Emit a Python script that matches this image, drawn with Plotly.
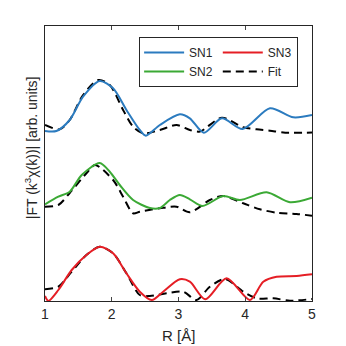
import plotly.graph_objects as go

# R values (Å) and curve heights (arb. units, offset stacked)
r_sn1 = [1.0, 1.17, 1.37, 1.57, 1.82, 2.02, 2.22, 2.42, 2.51, 2.72, 3.02, 3.17, 3.38, 3.65, 3.96, 4.37, 4.72, 5.0]
sn1 = [170, 170, 181, 204.3, 220, 212.7, 191, 171, 165.3, 176, 186.7, 182.7, 168.3, 182.7, 172, 192.7, 183.7, 186]
r_fit1 = [1.0, 1.22, 1.37, 1.57, 1.8, 1.97, 2.17, 2.32, 2.47, 2.72, 2.97, 3.17, 3.32, 3.65, 3.97, 4.17, 4.37, 4.6, 5.0]
fit1 = [176, 171.7, 181, 206, 221, 216, 191, 174.3, 167.7, 171, 176, 171, 169.5, 183.3, 173.7, 171.7, 170.3, 168.3, 168.5]

r_sn2 = [1.0, 1.2, 1.37, 1.55, 1.82, 1.97, 2.12, 2.32, 2.57, 2.72, 2.87, 3.02, 3.17, 3.36, 3.67, 3.92, 4.32, 4.67, 5.0]
sn2 = [96.7, 104.3, 109.3, 126, 138, 129.3, 116, 101, 93, 93, 101, 106, 101.7, 95, 105, 101, 108.7, 98.7, 103.3]
r_fit2 = [1.0, 1.2, 1.37, 1.62, 1.75, 2.02, 2.17, 2.32, 2.42, 2.72, 2.97, 3.17, 3.47, 3.67, 3.97, 4.22, 4.47, 4.77, 5.0]
fit2 = [94.3, 96, 108, 127.7, 136, 121, 104.3, 87.7, 89.3, 92.7, 94.3, 88.7, 101, 105, 97.7, 91.7, 88.3, 87, 85.3]

r_sn3 = [1.0, 1.05, 1.2, 1.4, 1.62, 1.82, 2.02, 2.22, 2.42, 2.6, 2.77, 3.02, 3.17, 3.4, 3.72, 4.07, 4.27, 4.47, 4.77, 5.0]
sn3 = [5, 0, 11, 31, 46, 54.3, 47.7, 27.7, 9.3, 1, 9.3, 21.7, 19.3, 1.7, 22.7, 1, 19.3, 24.3, 25, 26.7]
r_fit3 = [1.0, 1.2, 1.4, 1.62, 1.82, 2.02, 2.22, 2.42, 2.57, 2.82, 3.07, 3.27, 3.47, 3.7, 3.97, 4.17, 4.42, 4.67, 5.0]
fit3 = [11.7, 14.3, 29.3, 46, 54.3, 47.7, 27.7, 6, 5, 7.7, 9.3, 1, 14.3, 22, 9.3, 2.7, 2.7, 0.3, 2]

x_ticks = [1, 2, 3, 4, 5]
x_title = "R [Å]"
y_title = "|FT (k<sup>3</sup>χ(k))| [arb. units]"

c_blue = "#2B7BBF"
c_green = "#3BA935"
c_red = "#E51E25"

dash = "8px,5px"
fig = go.Figure()
for rx, ry in [(r_fit1, fit1), (r_fit2, fit2), (r_fit3, fit3)]:
    fig.add_trace(go.Scatter(x=rx, y=ry, mode="lines", line=dict(color="black", width=2, dash=dash, shape="spline", smoothing=0.8), showlegend=False, legendgroup="b"))
fig.add_trace(go.Scatter(x=r_sn1, y=sn1, mode="lines", name="SN1", legendgroup="a", line=dict(color=c_blue, width=2, shape="spline", smoothing=0.8)))
fig.add_trace(go.Scatter(x=r_sn2, y=sn2, mode="lines", name="SN2", legendgroup="a", line=dict(color=c_green, width=2, shape="spline", smoothing=0.8)))
fig.add_trace(go.Scatter(x=r_sn3, y=sn3, mode="lines", name="SN3", legendgroup="b", line=dict(color=c_red, width=2, shape="spline", smoothing=0.8)))
fig.add_trace(go.Scatter(x=[None], y=[None], mode="lines", name="Fit", legendgroup="b", line=dict(color="black", width=2, dash=dash)))

font = "Liberation Sans, Arial, sans-serif"
fig.update_layout(
    width=346, height=346,
    margin=dict(l=45, r=34, t=26, b=45, autoexpand=False),
    paper_bgcolor="white", plot_bgcolor="white",
    font=dict(family=font, size=14, color="#262626"),
    showlegend=True,
    legend=dict(
        orientation="h", traceorder="grouped", groupclick="toggleitem",
        x=0.948, xanchor="right", y=0.96, yanchor="top",
        bordercolor="#262626", borderwidth=1, bgcolor="white",
        font=dict(size=12), tracegroupgap=0, itemwidth=40,
    ),
    xaxis=dict(
        range=[1, 5], tickvals=x_ticks, ticks="inside", ticklen=4,
        showline=True, mirror="ticks", linecolor="#262626", linewidth=1,
        showgrid=False, zeroline=False, automargin=False,
        tickfont=dict(size=14),
    ),
    yaxis=dict(
        range=[0, 275], showticklabels=False, ticks="",
        showline=True, mirror=True, linecolor="#262626", linewidth=1,
        showgrid=False, zeroline=False, automargin=False,
    ),
    annotations=[
        dict(text=x_title, xref="paper", yref="paper", x=0.5, y=-0.125,
             xanchor="center", yanchor="middle", showarrow=False,
             font=dict(size=15)),
        dict(text=y_title, xref="paper", yref="paper", x=-0.052, y=0.556,
             xanchor="center", yanchor="middle", textangle=-90, showarrow=False,
             font=dict(size=14)),
    ],
)

fig.write_html("out.html", config={"displayModeBar": False},
               post_script="document.body.style.margin='0';")
